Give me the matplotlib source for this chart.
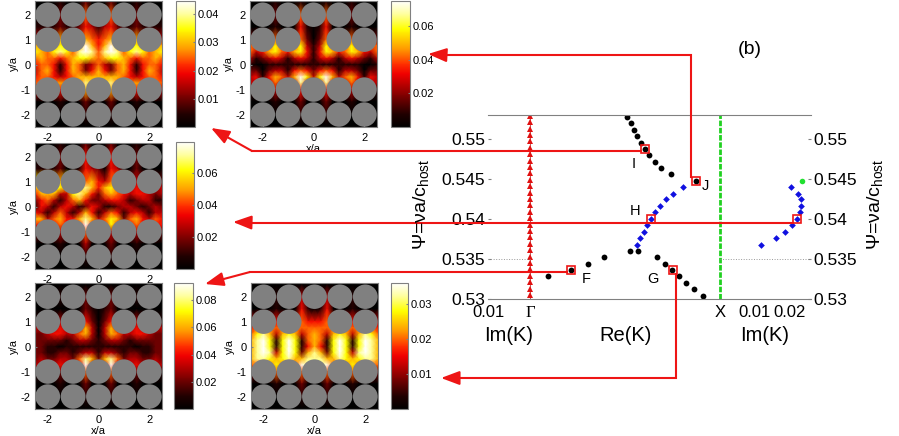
import numpy as np
import matplotlib
matplotlib.use('Agg')
import matplotlib.pyplot as plt
from matplotlib.colors import LinearSegmentedColormap
from matplotlib.patches import Circle, Rectangle

plt.rcParams['font.family'] = ['Liberation Sans', 'DejaVu Sans']
plt.rcParams['mathtext.fontset'] = 'custom'
plt.rcParams['mathtext.rm'] = 'Liberation Sans'
plt.rcParams['mathtext.it'] = 'Liberation Sans'

W, H = 899, 436
RED = '#ee1515'
GREY = '#808080'

# dispersion: Re(K) in units of the zone, Im(K) and normalised frequency
re_black = [.512, .529, .547, .563, .583, .603, .627, .655, .690, .741, .871,
            .524, .566, .666, .711, .748, .785, .821, .862, .911,
            .389, .303, .215, .095]
psi_black = [.55275, .55194, .55113, .55038, .54956, .54871, .548, .54716, .54638, .54559, .54475,
             .53604, .53604, .53521, .53441, .53363, .53284, .53204, .53125, .53041,
             .53521, .53441, .53363, .53284]
re_blue = [.806, .750, .713, .683, .657, .636, .615, .597, .578, .562]
psi_blue = [.54396, .54316, .54246, .54163, .54084, .54, .53921, .53841, .53763, .53679]
im_blue = [.0204, .0225, .0233, .0233, .0230, .0221, .0207, .0186, .0160, .0118]
im_green = [.0235]
psi_green = [.54475]
psi_gamma = [.5305, .5313, .5321, .5329, .5337, .5345, .5353, .5361, .5369, .5377,
             .5385, .5393, .5401, .5409, .5417, .5425, .5433, .5441, .5449, .5457,
             .5465, .5473, .5481, .5489, .5497, .5505, .5513, .5521, .5529]

psi_ticks = [.53, .535, .54, .545, .55]
psi_labels = ['0.53', '0.535', '0.54', '0.545', '0.55']

grid_x = [-2.5, -2.25, -2, -1.75, -1.5, -1.25, -1, -.75, -.5, -.25, 0,
          .25, .5, .75, 1, 1.25, 1.5, 1.75, 2, 2.25, 2.5]
grid_y = [2.5, 2, 1.5, 1, .75, .5, .25, 0, -.25, -.5, -.75, -1, -1.5, -2, -2.5]

levels_a = ['00001000200', '00002000500', '11112112431', '33336333654', '66667766964',
            '76578758985', '56554567765', '45541465235', '35641465246', '45543456666',
            '55556555866', '33334333633', '00001000200', '00000000100', '00000000000']
levels_b = ['00001000100', '00002000500', '00001000410', '22225222520', '55557555731',
            '53467546741', '31234313431', '10011111111', '22023314542', '34146536973',
            '33335333832', '11113111411', '00001000200', '00000000100', '00000000000']
levels_c = ['000010002000200010000', '000020004000400020000', '111120014320430020000',
            '766667555643564333222', '665775568646753343333', '466633786425654344323',
            '245313564223443123311', '143134312431123321232', '431353136413541343133',
            '663564468635762564354', '444454449444744454444', '222232225222322232222',
            '000010003000200010000', '000000001000100000000', '000000000000000000000']
levels_d = ['00000000000', '00001000200', '00000000210', '11113111420', '33334333630',
            '22344335630', '22222123321', '22110111111', '22112212331', '23223325862',
            '33334333932', '11112111511', '00001000200', '00000000100', '00000000000']
levels_e = ['00000000000', '00001000300', '00001000410', '33334333544', '45555555555',
            '57863676356', '68971797156', '68971797146', '68983797268', '68876786688',
            '55557555987', '22225222522', '00001000200', '00000000100', '00000000000']

vmax_a, vmax_b, vmax_c, vmax_d, vmax_e = .0447, .0752, .079, .0925, .0359
cticks_a = [.01, .02, .03, .04]
cticks_b = [.02, .04, .06]
cticks_c = [.02, .04, .06]
cticks_d = [.02, .04, .06, .08]
cticks_e = [.01, .02, .03]

rod_x = [-2, -1, 0, 1, 2]
rod_y = [2, 1, -1, -2]
axis_ticks = [-2, -1, 0, 1, 2]

heat = LinearSegmentedColormap.from_list('heat', [
    (0, '#000000'), (.1, '#200000'), (.25, '#800000'), (.42, '#f00000'), (.5, '#ff3000'),
    (.62, '#ff9a00'), (.78, '#ffff00'), (.9, '#ffffa0'), (1, '#ffffff')], N=256)

fig = plt.figure(figsize=(W / 100, H / 100), dpi=100)


def box(x0, y0, x1, y1):
    return [x0 / W, 1 - y1 / H, (x1 - x0) / W, (y1 - y0) / H]


def field(rows):
    # half rows are mirrored about x = 0
    full = [r if len(r) == len(grid_x) else r + r[-2::-1] for r in rows]
    return np.array([[int(c) for c in r] for r in full]) / 9


def draw_map(pos, cbar_pos, rows, vmax, cticks, xlabel=False):
    ax = fig.add_axes(box(*pos))
    mesh = ax.pcolormesh(grid_x, grid_y, field(rows) * vmax, shading='gouraud',
                         cmap=heat, vmin=0, vmax=vmax)
    for x in rod_x:
        for y in rod_y:
            if x == 0 and y == 1:
                continue
            ax.add_patch(Circle((x, y), .49, fc=GREY, ec='none', zorder=3))
    ax.set_xlim(-2.5, 2.5)
    ax.set_ylim(-2.5, 2.55)
    ax.set_xticks(axis_ticks[::2], ['-2', '0', '2'])
    ax.set_yticks(axis_ticks, ['-2', '-1', '0', '1', '2'])
    ax.tick_params(labelsize=8, length=1.5, direction='in', pad=3, color=GREY)
    ax.tick_params(axis='x', pad=4)
    ax.set_ylabel('y/a', fontsize=8, labelpad=1)
    if xlabel:
        ax.set_xlabel('x/a', fontsize=8, labelpad=1)
    for s in ax.spines.values():
        s.set_color(GREY)
    cax = fig.add_axes(box(*cbar_pos))
    cb = fig.colorbar(mesh, cax=cax, ticks=cticks)
    cb.ax.set_yticklabels(['%.2f' % t for t in cticks], fontsize=8)
    cb.ax.tick_params(length=1.5, direction='in', pad=2, color=GREY)
    cb.outline.set_edgecolor(GREY)
    return ax


draw_map((35, 1, 162, 127), (176, 1, 195, 127), levels_a, vmax_a, cticks_a)
draw_map((250, 1, 377, 127), (391, 1, 410, 127), levels_b, vmax_b, cticks_b, xlabel=True)
draw_map((35, 143, 162, 269), (176, 142, 194, 269), levels_c, vmax_c, cticks_c)
draw_map((35, 283, 162, 409), (174, 283, 193, 409), levels_d, vmax_d, cticks_d, xlabel=True)
draw_map((251, 283, 378, 409), (391, 283, 408, 409), levels_e, vmax_e, cticks_e, xlabel=True)

# band structure panel
ax = fig.add_axes(box(488, 115, 811, 299))
ax.set_xlim(-.2207, 1.4766)
ax.set_ylim(.53, .553)
k_right = 18.23   # Im(K) to axis units on the right side


def im_x(v):
    return 1 + np.array(v) * k_right


ax.plot([0, 0], [.53, .553], color='#b04040', lw=.6)
ax.plot([0] * len(psi_gamma), psi_gamma, ls='none', marker='^', ms=4.2, color='#e01010', mew=0)
ax.plot([1, 1], [.53, .553], color='#20d020', lw=2, ls=(0, (2, .6)))
ax.plot([-.2207, 0], [.535, .535], color='#999999', lw=.7, ls=':')
ax.plot([1, 1.4766], [.535, .535], color='#999999', lw=.7, ls=':')
ax.plot(re_black, psi_black, 'o', color='k', ms=4.2, mew=0)
ax.plot(re_blue, psi_blue, 'D', color='#1010e0', ms=3.4, mew=0)
ax.plot(im_x(im_blue), psi_blue, 'D', color='#1010e0', ms=3.4, mew=0)
ax.plot(im_x(im_green), psi_green, 'o', color='#20e030', ms=4, mew=0)

for s in ['left', 'right']:
    ax.spines[s].set_visible(False)
for s in ['top', 'bottom']:
    ax.spines[s].set_color(GREY)
ax.set_yticks(psi_ticks, psi_labels)
ax.tick_params(axis='y', labelsize=12.5, length=2, direction='in', left=True, right=True,
               labelleft=True, labelright=True, pad=2, color=GREY)
ax.set_xticks([-.2207, 0, 1, float(im_x(.01)), float(im_x(.02))],
              ['0.01', 'Γ', 'X', '0.01', '0.02'])
ax.tick_params(axis='x', labelsize=12, length=0, pad=4)
ax.get_xticklabels()[1].set_family('Liberation Serif')

# everything drawn in figure pixels: red guide lines, letters and axis titles
over = fig.add_axes([0, 0, 1, 1], facecolor='none')
over.set_xlim(0, W)
over.set_ylim(H, 0)
over.axis('off')


def guide(points, tip):
    xs = [p[0] for p in points]
    ys = [p[1] for p in points]
    over.plot(xs, ys, color=RED, lw=1.5, solid_joinstyle='miter')
    over.annotate('', xy=tip, xytext=points[-1],
                  arrowprops=dict(arrowstyle='-|>,head_length=.8,head_width=.3', color=RED,
                                  lw=1.5, shrinkA=0, shrinkB=0, mutation_scale=14))


guide([(691, 177), (691, 55), (445, 55)], (428, 54))
guide([(641, 151), (252, 151)], (211, 128))
guide([(793, 222.5), (250, 222.5)], (233, 222))
guide([(567, 272), (250, 272)], (205, 284))
guide([(676, 274), (676, 378), (458, 378)], (441, 378))

for cx, cy in [(645, 149), (695.5, 181), (651, 219), (797, 219), (571, 270), (673, 270)]:
    over.add_patch(Rectangle((cx - 4, cy - 4), 8, 8, fc='none', ec=RED, lw=1.2))

for s, x, y in [('F', 586, 279), ('G', 653, 279), ('H', 635, 211), ('I', 634, 164), ('J', 705, 186)]:
    over.text(x, y, s, fontsize=10.5, ha='center', va='center')
for s, x in [('Im(K)', 509), ('Re(K)', 626), ('Im(K)', 765)]:
    over.text(x, 335, s, fontsize=14.5, ha='center', va='center')
over.text(750, 49, '(b)', fontsize=14, ha='center', va='center')
psi_title = r'$\Psi$=$\nu$a/c$_{\mathrm{host}}$'
over.text(421, 204, psi_title, fontsize=14, rotation=90, ha='center', va='center')
over.text(875, 204, psi_title, fontsize=14, rotation=90, ha='center', va='center')

fig.savefig('out.png', dpi=100)
